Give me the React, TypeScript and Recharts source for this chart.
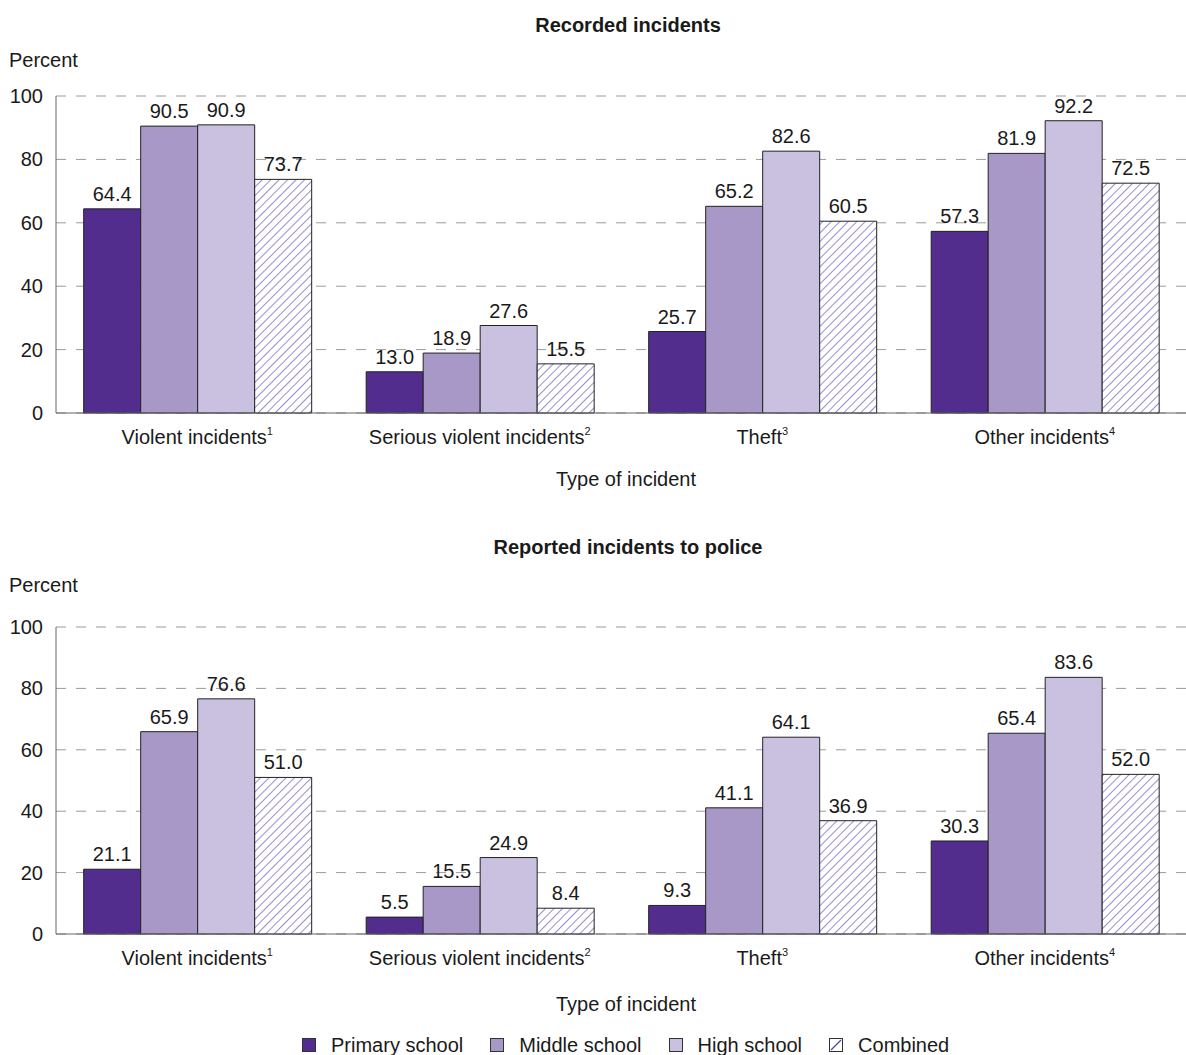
import { BarChart, Bar, XAxis, YAxis, CartesianGrid, LabelList } from 'recharts';

const categories = ['Violent incidents', 'Serious violent incidents', 'Theft', 'Other incidents'];
const footnotes = ['1', '2', '3', '4'];

// Recorded incidents (percent)
const recordedPrimary = [64.4, 13.0, 25.7, 57.3];
const recordedMiddle = [90.5, 18.9, 65.2, 81.9];
const recordedHigh = [90.9, 27.6, 82.6, 92.2];
const recordedCombined = [73.7, 15.5, 60.5, 72.5];

// Reported incidents to police (percent)
const reportedPrimary = [21.1, 5.5, 9.3, 30.3];
const reportedMiddle = [65.9, 15.5, 41.1, 65.4];
const reportedHigh = [76.6, 24.9, 64.1, 83.6];
const reportedCombined = [51.0, 8.4, 36.9, 52.0];

const yTicks = [0, 20, 40, 60, 80, 100];

const FONT = '"Liberation Sans", Arial, sans-serif';
const TEXT = '#1a1a1a';
const COLORS = {
  primary: '#522d8e',
  middle: '#a898c8',
  high: '#cac0df',
  hatch: '#5640b4',
};

const buildRows = (p: number[], m: number[], h: number[], c: number[]) =>
  categories.map((name, i) => ({
    name,
    primary: p[i],
    middle: m[i],
    high: h[i],
    combined: c[i],
  }));

const recordedData = buildRows(recordedPrimary, recordedMiddle, recordedHigh, recordedCombined);
const reportedData = buildRows(reportedPrimary, reportedMiddle, reportedHigh, reportedCombined);

const XTick = ({ x, y, payload, index }: any) => (
  <text x={x} y={y + 31} textAnchor="middle" fill={TEXT} fontSize={20} fontFamily={FONT}>
    {payload.value}
    <tspan fontSize={11} dy={-9}>{footnotes[index]}</tspan>
  </text>
);

const YTick = ({ x, y, payload }: any) => (
  <text x={x} y={y + 7} textAnchor="end" fill={TEXT} fontSize={20} fontFamily={FONT}>
    {payload.value}
  </text>
);

const fmt = (v: any) => Number(v).toFixed(1);

const Panel = ({ data, height, top, plot }: { data: any[]; height: number; top: number; plot: number }) => (
  <BarChart
    width={1186}
    height={height}
    data={data}
    margin={{ top, right: 0, left: 0, bottom: height - top - 30 - plot }}
    barCategoryGap="9.8%"
    barGap={0}
  >
    <CartesianGrid vertical={false} stroke="#9a9a9a" strokeDasharray="10 10" />
    <XAxis
      dataKey="name"
      height={30}
      axisLine={{ stroke: '#666' }}
      tickLine={false}
      tickSize={0}
      tickMargin={0}
      tick={<XTick />}
      interval={0}
    />
    <YAxis
      width={56}
      domain={[0, 100]}
      ticks={yTicks}
      axisLine={{ stroke: '#666' }}
      tickLine={false}
      tickSize={0}
      tickMargin={13}
      tick={<YTick />}
      interval={0}
    />
    {(['primary', 'middle', 'high', 'combined'] as const).map((key) => (
      <Bar
        key={key}
        dataKey={key}
        fill={key === 'combined' ? 'url(#hatch)' : COLORS[key]}
        stroke="#222"
        strokeWidth={1}
        isAnimationActive={false}
      >
        <LabelList
          dataKey={key}
          position="top"
          offset={8}
          formatter={fmt}
          fill={TEXT}
          fontSize={20}
          fontFamily={FONT}
        />
      </Bar>
    ))}
  </BarChart>
);

const textStyle: React.CSSProperties = {
  position: 'absolute',
  fontFamily: FONT,
  fontSize: 20,
  lineHeight: '24px',
  color: TEXT,
  whiteSpace: 'nowrap',
};

const centered = (left: number, top: number, bold = false): React.CSSProperties => ({
  ...textStyle,
  left,
  top,
  transform: 'translateX(-50%)',
  fontWeight: bold ? 'bold' : 'normal',
});

const legendItems = [
  { label: 'Primary school', color: COLORS.primary },
  { label: 'Middle school', color: COLORS.middle },
  { label: 'High school', color: COLORS.high },
  { label: 'Combined', color: 'hatch' },
];

export default function App() {
  return (
    <div style={{ position: 'absolute', left: 0, top: 0, width: 1186, height: 1055, background: '#fff' }}>
      <svg width={0} height={0} style={{ position: 'absolute' }}>
        <defs>
          <pattern id="hatch" patternUnits="userSpaceOnUse" width={6} height={6} patternTransform="rotate(45)">
            <rect width={6} height={6} fill="#fff" />
            <line x1={0} y1={0} x2={0} y2={6} stroke={COLORS.hatch} strokeWidth={1.2} />
          </pattern>
        </defs>
      </svg>

      <div style={centered(628, 13, true)}>Recorded incidents</div>
      <div style={{ ...textStyle, left: 9, top: 48 }}>Percent</div>
      <div style={{ position: 'absolute', left: 0, top: 0 }}>
        <Panel data={recordedData} height={520} top={96} plot={317} />
      </div>
      <div style={centered(626, 467)}>Type of incident</div>

      <div style={centered(628, 535, true)}>Reported incidents to police</div>
      <div style={{ ...textStyle, left: 9, top: 573 }}>Percent</div>
      <div style={{ position: 'absolute', left: 0, top: 520 }}>
        <Panel data={reportedData} height={535} top={107} plot={307} />
      </div>
      <div style={centered(626, 992)}>Type of incident</div>

      <div style={{ position: 'absolute', left: 302, top: 1033, display: 'flex', alignItems: 'center', height: 24 }}>
        {legendItems.map((it) => (
          <div key={it.label} style={{ display: 'flex', alignItems: 'center', marginRight: 27 }}>
            <svg width={14} height={14} style={{ marginRight: 15 }}>
              <rect x={0.5} y={0.5} width={13} height={13} fill={it.color === 'hatch' ? '#fff' : it.color} stroke="#333" />
              {it.color === 'hatch' && <line x1={2} y1={12} x2={12} y2={2} stroke={COLORS.hatch} strokeWidth={1.2} />}
            </svg>
            <span style={{ fontFamily: FONT, fontSize: 20, color: TEXT, lineHeight: '24px' }}>{it.label}</span>
          </div>
        ))}
      </div>
    </div>
  );
}
